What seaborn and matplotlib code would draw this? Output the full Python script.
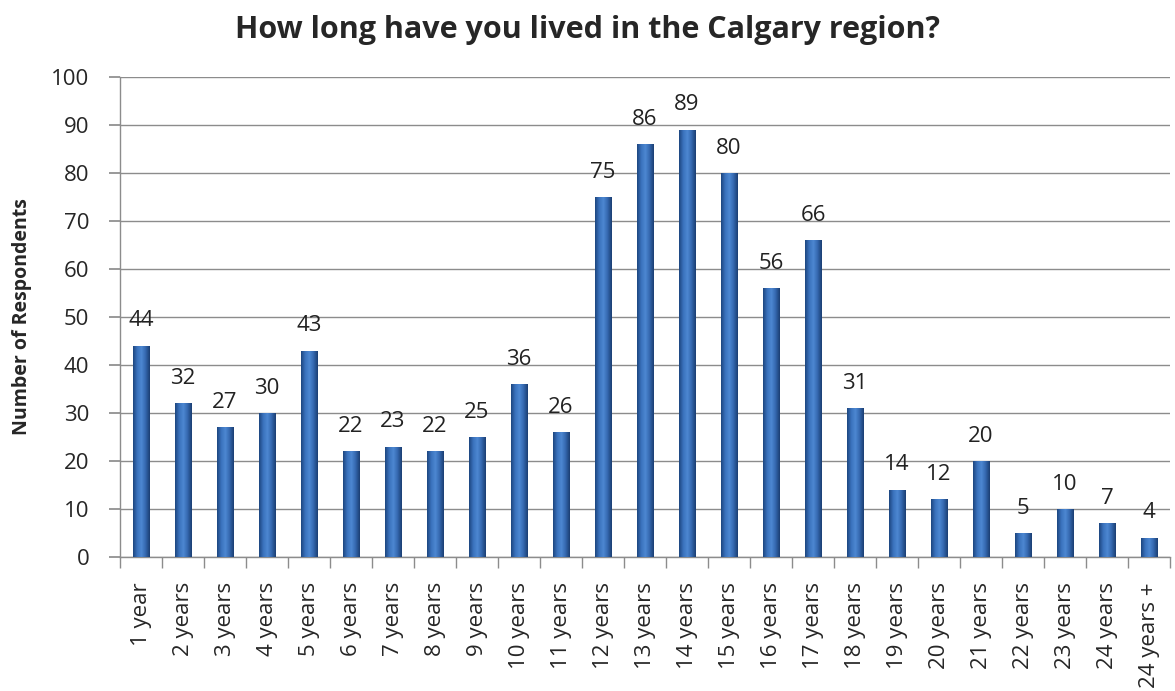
import numpy as np
import pandas as pd
import matplotlib
matplotlib.use("Agg")
import matplotlib.pyplot as plt
from matplotlib.colors import LinearSegmentedColormap
import seaborn as sns

# data
categories = ["1 year"] + [f"{i} years" for i in range(2, 25)] + ["24 years +"]
respondents = [44, 32, 27, 30, 43, 22, 23, 22, 25, 36, 26, 75, 86, 89, 80,
               56, 66, 31, 14, 12, 20, 5, 10, 7, 4]
y_ticks = list(range(0, 101, 10))

df = pd.DataFrame({"category": categories, "count": respondents})

sns.set_theme(style="white")
plt.rcParams["font.family"] = ["Open Sans", "DejaVu Sans"]

fig = plt.figure(figsize=(11.75, 6.91), dpi=100)
ax = fig.add_axes([120 / 1175, 1 - 557 / 691, 1050 / 1175, 480 / 691])

sns.barplot(data=df, x="category", y="count", color="#3467AE", width=0.4,
            edgecolor="#1E4479", linewidth=0.6, saturation=1, ax=ax, zorder=3)

# 柱子横向渐变（两侧深、中间亮）
grad_cmap = LinearSegmentedColormap.from_list(
    "bar", ["#1D4680", "#3A72BD", "#4D88D2", "#3467AE", "#1B3F73"])
grad = np.linspace(0, 1, 64).reshape(1, -1)
for p in ax.patches:
    x0, y0 = p.get_x(), p.get_y()
    w, h = p.get_width(), p.get_height()
    im = ax.imshow(grad, cmap=grad_cmap, aspect="auto", zorder=3.5,
                   extent=(x0, x0 + w, y0, y0 + h), origin="lower")
    im.set_clip_path(p)

# value labels
for i, v in enumerate(respondents):
    ax.text(i, v + 3.0, str(v), ha="center", va="bottom", fontsize=16, color="#222222")

ax.set_ylim(0, 100)
ax.set_xlim(-0.5, len(categories) - 0.5)
ax.set_yticks(y_ticks)
ax.set_yticklabels([str(t) for t in y_ticks], fontsize=16)
ax.yaxis.grid(True, color="#8c8c8c", linewidth=1, zorder=0)
ax.set_axisbelow(True)

# x ticks between categories, labels rotated
ax.set_xticks(np.arange(len(categories)))
ax.set_xticklabels(categories, rotation=90, fontsize=16)
ax.tick_params(axis="x", length=0, pad=18)
ax.set_xticks(np.arange(-0.5, len(categories), 1), minor=True)
ax.tick_params(axis="x", which="minor", length=8, color="#8c8c8c", direction="out", bottom=True)
ax.tick_params(axis="y", length=8, color="#8c8c8c", direction="out", left=True, pad=14)

for s in ["top", "right"]:
    ax.spines[s].set_visible(False)
for s in ["left", "bottom"]:
    ax.spines[s].set_color("#8c8c8c")
    ax.spines[s].set_linewidth(1)

ax.set_xlabel("")
ax.set_ylabel("Number of Respondents", fontsize=14, fontweight="bold", labelpad=14)
ax.set_xlim(-0.5, len(categories) - 0.5)
fig.text(0.5, 1 - 30 / 691, "How long have you lived in the Calgary region?",
         ha="center", va="center", fontsize=22, fontweight="bold")

fig.savefig("out.png", dpi=100)
